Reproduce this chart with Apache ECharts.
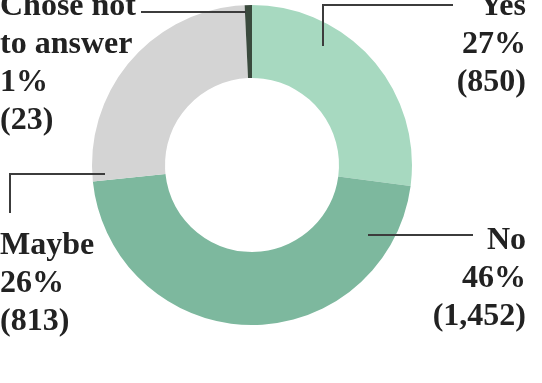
<!DOCTYPE html>
<html>
<head>
<meta charset="utf-8">
<script src="https://cdn.jsdelivr.net/npm/echarts@6/dist/echarts.min.js"></script>
<style>
html,body{margin:0;padding:0;background:#fff;}
#chart{width:542px;height:383px;}
</style>
</head>
<body>
<div id="chart"></div>
<script>
// Data
var categories = ['Yes', 'No', 'Maybe', 'Chose not\nto answer'];
var values = [850, 1452, 813, 23];
var colors = ['#a7d9c0', '#7db89e', '#d4d4d4', '#3a4a3d'];

// Label placement (styling only)
var labelPos = [
  {x: 526, y: -12, align: 'right', line: [[323, 46], [323, 5], [453, 5]]},
  {x: 526, y: 222, align: 'right', line: [[368, 235], [420, 235], [473, 235]]},
  {x: 0, y: 227, align: 'left', line: [[105, 174], [10, 174], [10, 213]]},
  {x: 0, y: -12, align: 'left', line: [[246, 12], [190, 12], [141, 12]]}
];

function fmt(n){ return n.toLocaleString('en-US'); }

var chart = echarts.init(document.getElementById('chart'), null, {renderer: 'canvas'});
chart.setOption({
  animation: false,
  graphic: labelPos.map(function(lp){
    return {
      type: 'polyline',
      z: 100,
      silent: true,
      shape: {points: lp.line},
      style: {stroke: '#3c3c3c', lineWidth: 2, fill: null}
    };
  }),
  series: [{
    type: 'pie',
    center: [252, 165],
    radius: [87, 160],
    startAngle: 90,
    clockwise: true,
    avoidLabelOverlap: false,
    emphasis: {disabled: true},
    silent: true,
    data: categories.map(function(c, i){
      return {name: c, value: values[i], itemStyle: {color: colors[i]}};
    }),
    label: {
      show: true,
      formatter: function(p){
        return p.name + '\n' + Math.round(p.percent) + '%\n(' + fmt(p.value) + ')';
      },
      fontFamily: 'Liberation Serif',
      fontWeight: 'bold',
      fontSize: 32,
      lineHeight: 38,
      color: '#222'
    },
    labelLine: {show: false},
    labelLayout: function(params){
      var lp = labelPos[params.dataIndex];
      return {
        x: lp.x,
        y: lp.y,
        align: lp.align,
        verticalAlign: 'top'
      };
    }
  }]
});
</script>
</body>
</html>
